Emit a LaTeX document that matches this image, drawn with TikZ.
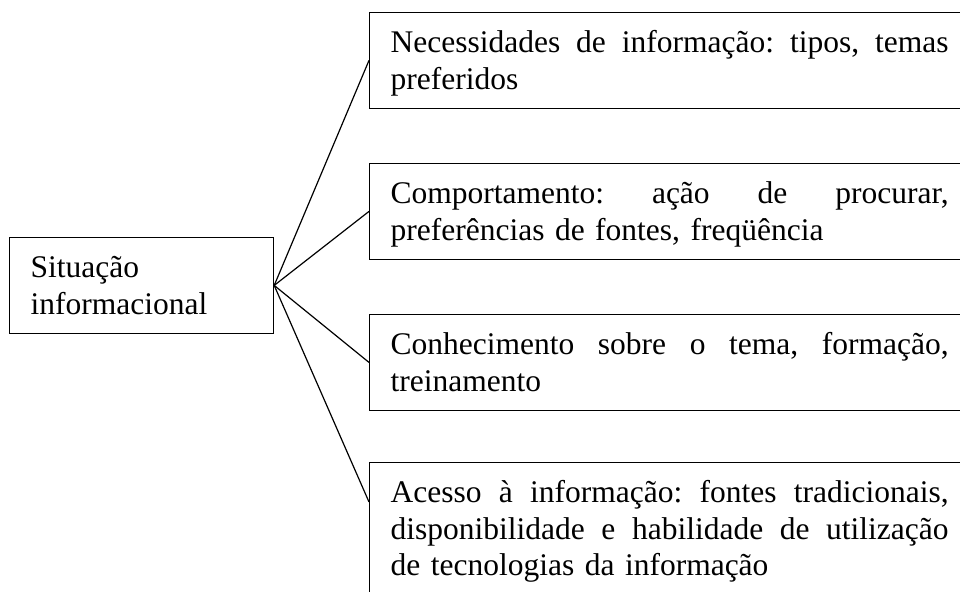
\documentclass[tikz,border=0pt]{standalone}
\usepackage{fontspec}
\setmainfont{Liberation Serif}
\newcommand\topstr{\rule{0pt}{32pt}}
\newcommand\botstr{\rule[-11pt]{0pt}{11pt}}
\newcommand\jline[1]{\leavevmode\hbox to 558pt{\spaceskip=0pt\xspaceskip=0pt #1}}
\begin{document}
\begin{tikzpicture}[x=1pt,y=-1pt,
  every node/.style={font=\fontsize{31.5}{36.6}\selectfont\frenchspacing},
  itembox/.style={draw,line width=1.2pt,anchor=north west,text width=558pt,
    inner xsep=21pt,inner ysep=8pt},
  srcbox/.style={draw,line width=1.2pt,anchor=north west,text width=221.5pt,
    inner xsep=21.5pt,inner ysep=8pt},
  link/.style={line width=1.2pt}]
\useasboundingbox (0,0) rectangle (960,591);
\clip (0,0) rectangle (960,591);
\node[srcbox] (src) at (8.5,237) {\topstr Situação\\informacional\botstr};
\node[itembox] (b1) at (369,12) {\topstr\jline{Necessidades de informação: tipos, temas}\\preferidos\botstr};
\node[itembox] (b2) at (369,163) {\topstr\jline{Comportamento: ação de procurar,}\\preferências de fontes, freqüência\botstr};
\node[itembox] (b3) at (369,314) {\topstr\jline{Conhecimento sobre o tema, formação,}\\treinamento\botstr};
\node[itembox] (b4) at (369,462) {\topstr\jline{Acesso à informação: fontes tradicionais,}\\\jline{disponibilidade e habilidade de utilização}\\de tecnologias da informação\botstr};
\coordinate (b4in) at ([yshift=-40pt]b4.north west);
\draw[link] (src.east) -- (b1.west);
\draw[link] (src.east) -- (b2.west);
\draw[link] (src.east) -- (b3.west);
\draw[link] (src.east) -- (b4in);
\end{tikzpicture}
\end{document}
